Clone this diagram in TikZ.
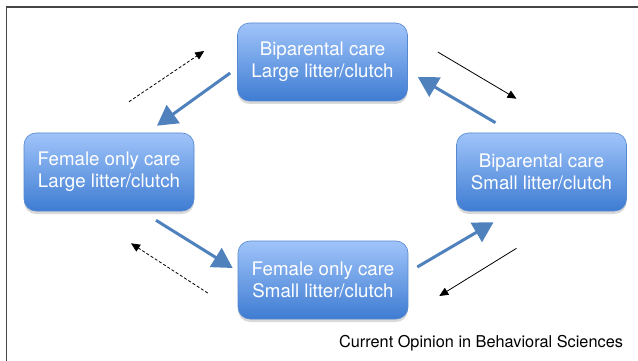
\documentclass[tikz,border=0pt]{standalone}
\usepackage{fontspec}
\setmainfont{TeX Gyre Heros}
\usetikzlibrary{arrows.meta,calc,shadows}

\definecolor{boxtop}{RGB}{160,196,250}
\definecolor{boxbottom}{RGB}{62,124,210}
\definecolor{boxedge}{RGB}{86,136,208}
\definecolor{flowblue}{RGB}{79,129,189}
\definecolor{framegray}{RGB}{70,70,70}

\tikzset{
  carebox/.style={rounded corners=12pt,minimum width=170pt,minimum height=78pt,
    inner sep=0pt,align=center,text=white,top color=boxtop,bottom color=boxbottom,
    draw=boxedge,line width=0.6pt,
    drop shadow={shadow xshift=0pt,shadow yshift=-3pt,opacity=0.3},
    font=\fontsize{18.7}{22}\selectfont},
  flow/.style={draw=flowblue,line width=3pt,-{Triangle[length=20pt,width=22pt]}},
  thinflow/.style={draw=black,line width=0.8pt,-{Triangle[length=9pt,width=8pt]}},
  dashflow/.style={thinflow,dash pattern=on 3pt off 2pt}
}

\begin{document}
\begin{tikzpicture}[x=1pt,y=-1pt]
  \useasboundingbox (0,0) rectangle (638,361);

  % frame
  \draw [framegray,line width=1.5pt] (6.5,361) -- (6.5,7) -- (638,7);

  \coordinate (c1) at (322.5,62);
  \coordinate (c2) at (109,172);
  \coordinate (c3) at (323,280);
  \coordinate (c4) at (541.5,172);

  \node [carebox] (bplarge) at (c1) {Biparental care\\Large litter/clutch};
  \node [carebox] (folarge) at (c2) {Female only care\\Large litter/clutch};
  \node [carebox] (fosmall) at (c3) {Female only care\\Small litter/clutch};
  \node [carebox] (bpsmall) at (c4) {Biparental care\\Small litter/clutch};

  % main cycle
  \draw [flow] ($(bplarge.west)+(-7,11)$) -- ($(folarge.north)+(48,-7)$);
  \draw [flow] ($(folarge.south)+(47,9)$) -- ($(fosmall.west)+(-5,-12)$);
  \draw [flow] ($(fosmall.east)+(9,-13)$) -- ($(bpsmall.south)+(-48,11)$);
  \draw [flow] ($(bpsmall.north)+(-46,-10)$) -- ($(bplarge.east)+(10,15)$);

  % side arrows
  \coordinate (s1) at ($(bplarge.east)+(30,-10)$);
  \coordinate (e1) at ($(bpsmall.north)+(-25,-34)$);
  \coordinate (s2) at ($(bpsmall.south)+(-25,37)$);
  \coordinate (e2) at ($(fosmall.east)+(31,16)$);
  \coordinate (s3) at ($(folarge.north)+(20,-31)$);
  \coordinate (e3) at ($(bplarge.west)+(-33,-11)$);
  \coordinate (s4) at ($(fosmall.west)+(-30,13)$);
  \coordinate (e4) at ($(folarge.south)+(22,32)$);

  \draw [thinflow] (s1) -- (e1);
  \draw [thinflow] (s2) -- (e2);
  \draw [dashflow] (s3) -- (e3);
  \draw [dashflow] (s4) -- (e4);

  \node [anchor=east,font=\fontsize{16.3}{19}\selectfont] (source) at (626.5,343) {Current Opinion in Behavioral Sciences};
\end{tikzpicture}
\end{document}
